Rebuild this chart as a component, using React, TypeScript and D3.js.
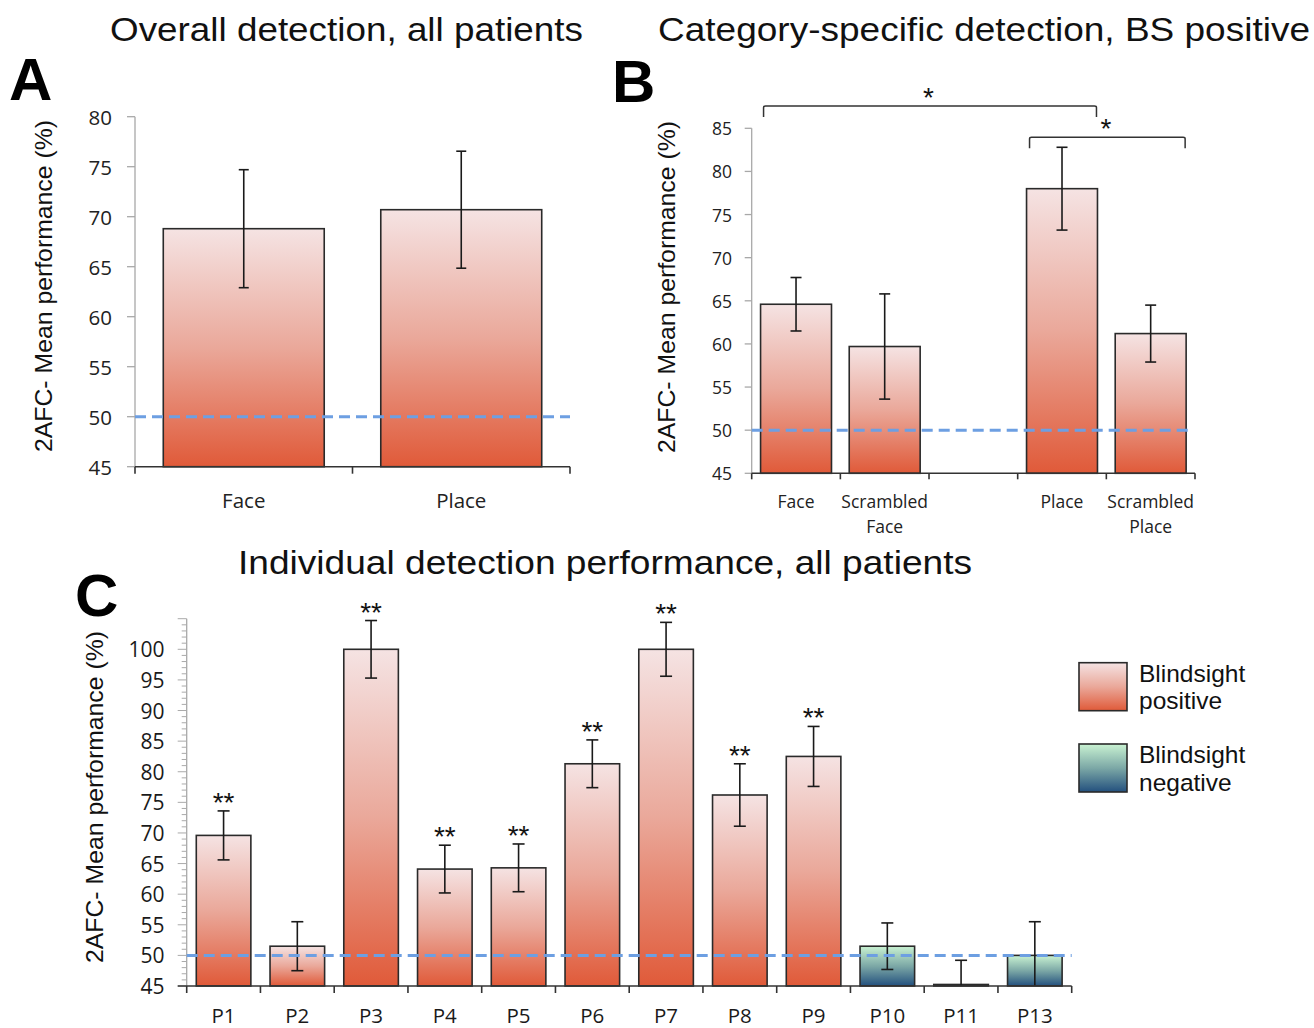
import React from "react";
import * as d3 from "d3";

const A_CATS = ["Face", "Place"];
const A_VALUES = [68.8, 70.7];
const A_ERR = [5.9, 5.85];
const A_TICKS = [45, 50, 55, 60, 65, 70, 75, 80];

const B_CATS = ["Face|", "Scrambled|Face", "", "Place|", "Scrambled|Place"];
const B_VALUES: (number | null)[] = [64.6, 59.7, null, 78.0, 61.2];
const B_ERR: (number | null)[] = [3.1, 6.1, null, 4.8, 3.3];
const B_TICKS = [45, 50, 55, 60, 65, 70, 75, 80, 85];
const B_BRACKETS = [
  { from: 0, to: 3, label: "*", level: 0 },
  { from: 3, to: 4, label: "*", level: 1 },
];

const C_CATS = ["P1", "P2", "P3", "P4", "P5", "P6", "P7", "P8", "P9", "P10", "P11", "P13"];
const C_VALUES = [69.6, 51.5, 100, 64.1, 64.3, 81.3, 100, 76.2, 82.5, 51.5, 45.25, 50.0];
const C_ERR = [4.0, 4.0, 4.7, 3.9, 3.9, 3.9, 4.4, 5.1, 4.9, 3.8, 3.95, 5.5];
const C_GROUP = ["pos", "pos", "pos", "pos", "pos", "pos", "pos", "pos", "pos", "neg", "neg", "neg"];
const C_STARS = ["**", "", "**", "**", "**", "**", "**", "**", "**", "", "", ""];
const C_TICKS = [45, 50, 55, 60, 65, 70, 75, 80, 85, 90, 95, 100];

const LEGEND = [
  { key: "pos", lines: ["Blindsight", "positive"] },
  { key: "neg", lines: ["Blindsight", "negative"] },
];

const CHANCE = 50;
const SANS = "'Liberation Sans', Arial, sans-serif";
const TICKFONT = "'Open Sans', 'Liberation Sans', sans-serif";
const DASH_COLOR = "#6d9fe2";
const YLABEL = "2AFC- Mean performance (%)";

function Gradients() {
  return (
    <defs>
      <linearGradient id="gpos" x1="0" y1="0" x2="0" y2="1">
        <stop offset="0" stopColor="#f5e3e3" />
        <stop offset="0.5" stopColor="#eaa89a" />
        <stop offset="1" stopColor="#e05a39" />
      </linearGradient>
      <linearGradient id="gneg" x1="0" y1="0" x2="0" y2="1">
        <stop offset="0" stopColor="#c9f2d2" />
        <stop offset="0.5" stopColor="#7ca8a6" />
        <stop offset="1" stopColor="#23507e" />
      </linearGradient>
    </defs>
  );
}

function ErrBar({ x, y1, y2, cap }: { x: number; y1: number; y2: number; cap: number }) {
  return (
    <g stroke="#1a1a1a" strokeWidth={1.6}>
      <line x1={x} x2={x} y1={y1} y2={y2} />
      <line x1={x - cap / 2} x2={x + cap / 2} y1={y1} y2={y1} />
      <line x1={x - cap / 2} x2={x + cap / 2} y1={y2} y2={y2} />
    </g>
  );
}

function Title({ x, y, w, text }: { x: number; y: number; w: number; text: string }) {
  return (
    <text x={x - w / 2} y={y} textLength={w} lengthAdjust="spacingAndGlyphs" fontFamily={SANS} fontSize={34} fill="#111">{text}</text>
  );
}

function YLabel({ cx, cy }: { cx: number; cy: number }) {
  return (
    <text transform={`translate(${cx},${cy}) rotate(-90)`} x={-166} textLength={332} lengthAdjust="spacingAndGlyphs" dominantBaseline="central" fontFamily={SANS} fontSize={24.5} fill="#111">{YLABEL}</text>
  );
}

function PanelA() {
  const x0 = 135, x1 = 570, yTop = 116.7, yBot = 466.7;
  const x = d3.scaleBand<string>().domain(A_CATS).range([x0, x1]).paddingInner(0.26).paddingOuter(0.13);
  const y = d3.scaleLinear().domain([45, 80]).range([yBot, yTop]);
  const edges = A_CATS.map((_, i) => x0 + (i * (x1 - x0)) / A_CATS.length).concat([x1]);
  return (
    <g>
      <Title x={346.5} y={41} w={473} text="Overall detection, all patients" />
      <text x={9} y={100} fontFamily={SANS} fontWeight="bold" fontSize={60} fill="#000">A</text>
      <YLabel cx={43} cy={286} />
      <line x1={x0} x2={x0} y1={y(80)} y2={yBot} stroke="#a8a8a8" strokeWidth={1.3} />
      {A_TICKS.map((t) => (
        <g key={t}>
          <line x1={x0 - 8} x2={x0} y1={y(t)} y2={y(t)} stroke="#a8a8a8" strokeWidth={1.3} />
          <text x={112} y={y(t)} textAnchor="end" dominantBaseline="central" fontFamily={TICKFONT} fontSize={20.5} fill="#222">{t}</text>
        </g>
      ))}
      {A_CATS.map((c, i) => {
        const bx = x(c)!;
        const yv = y(A_VALUES[i]);
        const cx = bx + x.bandwidth() / 2;
        return (
          <g key={c}>
            <rect x={bx} y={yv} width={x.bandwidth()} height={yBot - yv} fill="url(#gpos)" stroke="#2a2a2a" strokeWidth={1.6} />
            <ErrBar x={cx} y1={y(A_VALUES[i] + A_ERR[i])} y2={y(A_VALUES[i] - A_ERR[i])} cap={10} />
            <text x={cx} y={508} textAnchor="middle" fontFamily={TICKFONT} fontSize={20.5} fill="#222">{c}</text>
          </g>
        );
      })}
      <line x1={x0} x2={x1} y1={y(CHANCE)} y2={y(CHANCE)} stroke={DASH_COLOR} strokeWidth={3} strokeDasharray="11 6" />
      <line x1={x0} x2={x1} y1={yBot} y2={yBot} stroke="#333" strokeWidth={1.6} />
      {edges.map((e, i) => (
        <line key={i} x1={e} x2={e} y1={yBot} y2={yBot + 7} stroke="#333" strokeWidth={1.6} />
      ))}
    </g>
  );
}

function PanelB() {
  const x0 = 751.7, x1 = 1195, yTop = 128.3, yBot = 473.3;
  const idx = B_CATS.map((_, i) => String(i));
  const x = d3.scaleBand<string>().domain(idx).range([x0, x1]).paddingInner(0.2).paddingOuter(0.1);
  const y = d3.scaleLinear().domain([45, 85]).range([yBot, yTop]);
  const edges = B_CATS.map((_, i) => x0 + (i * (x1 - x0)) / B_CATS.length).concat([x1]);
  return (
    <g>
      <Title x={984} y={41} w={652} text="Category-specific detection, BS positive" />
      <text x={612} y={102} fontFamily={SANS} fontWeight="bold" fontSize={60} fill="#000">B</text>
      <YLabel cx={666} cy={287} />
      <line x1={x0} x2={x0} y1={y(85)} y2={yBot} stroke="#a8a8a8" strokeWidth={1.3} />
      {B_TICKS.map((t) => (
        <g key={t}>
          <line x1={x0 - 7} x2={x0} y1={y(t)} y2={y(t)} stroke="#a8a8a8" strokeWidth={1.3} />
          <text x={732} y={y(t)} textAnchor="end" dominantBaseline="central" fontFamily={TICKFONT} fontSize={17.5} fill="#222">{t}</text>
        </g>
      ))}
      {B_CATS.map((c, i) => {
        const v = B_VALUES[i];
        const e = B_ERR[i];
        const bx = x(String(i))!;
        const cx = bx + x.bandwidth() / 2;
        const lines = c.split("|");
        return (
          <g key={i}>
            {v !== null && e !== null && (
              <>
                <rect x={bx} y={y(v)} width={x.bandwidth()} height={yBot - y(v)} fill="url(#gpos)" stroke="#2a2a2a" strokeWidth={1.6} />
                <ErrBar x={cx} y1={y(v + e)} y2={y(v - e)} cap={11} />
              </>
            )}
            {lines.map((l, k) => (
              <text key={k} x={cx} y={508 + k * 25} textAnchor="middle" fontFamily={TICKFONT} fontSize={17.5} fill="#222">{l}</text>
            ))}
          </g>
        );
      })}
      {B_BRACKETS.map((b, i) => {
        const xa = x(String(b.from))! + 3;
        const xb = x(String(b.to))! + x.bandwidth() - 1;
        const yl = b.level === 0 ? 106 : 137.3;
        const starX = b.level === 0 ? 928.5 : 1106;
        return (
          <g key={i}>
            <path d={`M${xa},${yl + 11}V${yl + 1.5}Q${xa},${yl} ${xa + 2},${yl}H${xb - 2}Q${xb},${yl} ${xb},${yl + 1.5}V${yl + 11}`} fill="none" stroke="#333" strokeWidth={1.5} />
            <text x={starX} y={yl + 1} textAnchor="middle" fontFamily={SANS} fontSize={28} fill="#111">{b.label}</text>
          </g>
        );
      })}
      <line x1={x0} x2={1193} y1={y(CHANCE)} y2={y(CHANCE)} stroke={DASH_COLOR} strokeWidth={3} strokeDasharray="11 6" />
      <line x1={x0} x2={x1} y1={yBot} y2={yBot} stroke="#333" strokeWidth={1.6} />
      {edges.map((e, i) => (
        <line key={i} x1={e} x2={e} y1={yBot} y2={yBot + 6} stroke="#333" strokeWidth={1.6} />
      ))}
    </g>
  );
}

function PanelC() {
  const x0 = 186.7, x1 = 1071.7, yBot = 986, yMaxVal = 105;
  const y = d3.scaleLinear().domain([45, 100]).range([yBot, 649.3]);
  const x = d3.scaleBand<string>().domain(C_CATS).range([x0, x1]).paddingInner(0.26).paddingOuter(0.13);
  const edges = C_CATS.map((_, i) => x0 + (i * (x1 - x0)) / C_CATS.length).concat([x1]);
  const minor = d3.range(45, yMaxVal + 0.5, 1);
  return (
    <g>
      <Title x={605} y={574} w={734} text="Individual detection performance, all patients" />
      <text x={75} y={616} fontFamily={SANS} fontWeight="bold" fontSize={60} fill="#000">C</text>
      <YLabel cx={94} cy={797} />
      <line x1={x0} x2={x0} y1={y(yMaxVal)} y2={yBot} stroke="#a8a8a8" strokeWidth={1.3} />
      {minor.map((t) => (
        <line key={t} x1={x0 - (t % 5 === 0 ? 9 : 5)} x2={x0} y1={y(t)} y2={y(t)} stroke="#aaa" strokeWidth={1} />
      ))}
      {C_TICKS.map((t) => (
        <text key={t} x={164.5} y={y(t)} textAnchor="end" dominantBaseline="central" fontFamily={TICKFONT} fontSize={21} fill="#1a1a1a">{t}</text>
      ))}
      {C_CATS.map((c, i) => {
        const bx = x(c)!;
        const cx = bx + x.bandwidth() / 2;
        const v = C_VALUES[i];
        const e = C_ERR[i];
        const top = y(v + e);
        const bot = Math.min(y(v - e), yBot);
        return (
          <g key={c}>
            <rect x={bx} y={y(v)} width={x.bandwidth()} height={yBot - y(v)} fill={C_GROUP[i] === "pos" ? "url(#gpos)" : "url(#gneg)"} stroke="#2a2a2a" strokeWidth={1.6} />
            <g stroke="#1a1a1a" strokeWidth={1.6}>
              <line x1={cx} x2={cx} y1={top} y2={bot} />
              <line x1={cx - 6} x2={cx + 6} y1={top} y2={top} />
              {y(v - e) <= yBot && <line x1={cx - 6} x2={cx + 6} y1={bot} y2={bot} />}
            </g>
            {C_STARS[i] && (
              <text x={cx} y={top + 1} textAnchor="middle" fontFamily={SANS} fontSize={28} fill="#111">{C_STARS[i]}</text>
            )}
            <text x={cx} y={1023} textAnchor="middle" fontFamily={TICKFONT} fontSize={20.5} fill="#1a1a1a">{c}</text>
          </g>
        );
      })}
      <line x1={x0} x2={x1} y1={y(CHANCE)} y2={y(CHANCE)} stroke={DASH_COLOR} strokeWidth={3} strokeDasharray="11 6" />
      <line x1={x0 - 9} x2={x1} y1={yBot} y2={yBot} stroke="#333" strokeWidth={1.6} />
      {edges.map((e, i) => (
        <line key={i} x1={e} x2={e} y1={yBot} y2={yBot + 7} stroke="#333" strokeWidth={1.6} />
      ))}
      {LEGEND.map((l, i) => {
        const ly = 662.7 + i * 81.3;
        return (
          <g key={l.key}>
            <rect x={1079} y={ly} width={48} height={48} fill={l.key === "pos" ? "url(#gpos)" : "url(#gneg)"} stroke="#2a2a2a" strokeWidth={1.6} />
            {l.lines.map((t, k) => (
              <text key={k} x={1139} y={ly + 19 + k * 27.5} fontFamily={SANS} fontSize={24.5} fill="#111">{t}</text>
            ))}
          </g>
        );
      })}
    </g>
  );
}

export default function App() {
  return (
    <svg width={1314} height={1028} style={{ position: "absolute", left: 0, top: 0, background: "#fff" }}>
      <Gradients />
      <rect width={1314} height={1028} fill="#fff" />
      <PanelA />
      <PanelB />
      <PanelC />
    </svg>
  );
}
